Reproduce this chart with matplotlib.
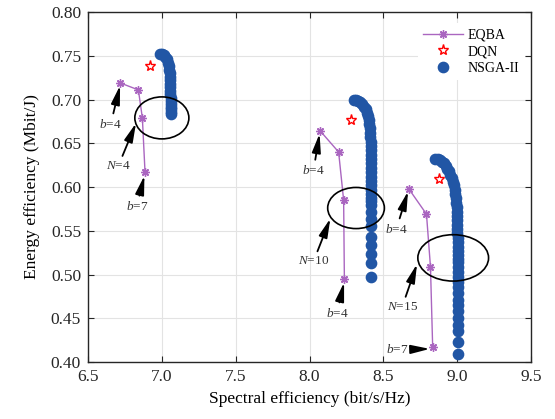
import matplotlib
matplotlib.use("Agg")
import matplotlib.pyplot as plt
from matplotlib.patches import Ellipse

# Fuente tipo Times para todo
plt.rcParams['font.family'] = ['Liberation Serif', 'DejaVu Serif']
plt.rcParams['mathtext.fontset'] = 'custom'
plt.rcParams['mathtext.rm'] = 'Liberation Serif'
plt.rcParams['mathtext.it'] = 'Liberation Serif:italic'

# EQBA (tres grupos, cuatro puntos cada uno)
eqba_se = [[6.717, 6.841, 6.868, 6.886],
           [8.073, 8.197, 8.231, 8.236],
           [8.672, 8.792, 8.819, 8.834]]
eqba_ee = [[0.719, 0.711, 0.679, 0.617],
           [0.664, 0.640, 0.585, 0.495],
           [0.598, 0.569, 0.509, 0.417]]

# DQN
dqn_se = [6.920, 8.281, 8.875]
dqn_ee = [0.738, 0.677, 0.609]

# NSGA-II (frentes de Pareto)
nsga1_se = [6.990, 7.000, 7.012, 7.022, 7.032, 7.040, 7.045, 7.049, 7.052, 7.054, 7.055,
            7.056, 7.057, 7.058, 7.058, 7.059, 7.060, 7.060, 7.061, 7.061, 7.062, 7.062]
nsga1_ee = [0.752, 0.752, 0.751, 0.749, 0.746, 0.742, 0.738, 0.734, 0.730, 0.726, 0.722,
            0.718, 0.714, 0.710, 0.706, 0.702, 0.698, 0.695, 0.692, 0.689, 0.686, 0.684]

nsga2_se = [8.299, 8.315, 8.330, 8.345, 8.358, 8.370, 8.380, 8.389, 8.396, 8.402, 8.406,
            8.409, 8.411, 8.412, 8.413, 8.413, 8.413, 8.414, 8.414, 8.414, 8.414, 8.415,
            8.415, 8.415, 8.415, 8.415, 8.416, 8.416, 8.416, 8.416, 8.416, 8.416, 8.416,
            8.416, 8.416, 8.416, 8.416, 8.416]
nsga2_ee = [0.699, 0.699, 0.698, 0.697, 0.695, 0.692, 0.689, 0.685, 0.681, 0.677, 0.672,
            0.667, 0.662, 0.657, 0.652, 0.647, 0.642, 0.637, 0.632, 0.627, 0.622, 0.617,
            0.612, 0.607, 0.602, 0.597, 0.592, 0.588, 0.584, 0.579, 0.572, 0.564, 0.555,
            0.543, 0.534, 0.524, 0.513, 0.497]

nsga3_se = [8.853, 8.868, 8.882, 8.896, 8.909, 8.921, 8.932, 8.943, 8.954, 8.962, 8.970,
            8.977, 8.983, 8.988, 8.992, 8.995, 8.997, 8.999, 9.000, 9.001, 9.001, 9.002,
            9.002, 9.003, 9.003, 9.003, 9.004, 9.004, 9.004, 9.004, 9.005, 9.005, 9.005,
            9.005, 9.005, 9.005, 9.005, 9.005, 9.005, 9.005, 9.005, 9.005, 9.005, 9.006]
nsga3_ee = [0.632, 0.632, 0.631, 0.629, 0.627, 0.624, 0.621, 0.618, 0.614, 0.610, 0.606,
            0.602, 0.597, 0.592, 0.587, 0.582, 0.577, 0.572, 0.567, 0.562, 0.557, 0.552,
            0.547, 0.542, 0.537, 0.532, 0.527, 0.522, 0.518, 0.514, 0.509, 0.503, 0.497,
            0.492, 0.486, 0.479, 0.471, 0.465, 0.458, 0.450, 0.442, 0.435, 0.423, 0.409]

# Anotaciones: texto, punto, posicion del texto
notas = [(r'$b$=4', (6.717, 0.716), (6.654, 0.672)),
         (r'$N$=4', (6.825, 0.673), (6.705, 0.624)),
         (r'$b$=7', (6.882, 0.613), (6.830, 0.578)),
         (r'$b$=4', (8.068, 0.661), (8.027, 0.619)),
         (r'$N$=10', (8.141, 0.564), (8.027, 0.515)),
         (r'$b$=4', (8.234, 0.491), (8.186, 0.456)),
         (r'$b$=4', (8.667, 0.595), (8.588, 0.552)),
         (r'$N$=15', (8.728, 0.512), (8.627, 0.463)),
         (r'$b$=7', (8.815, 0.415), (8.593, 0.414))]

# Elipses: centro, ancho, alto
elipses = [((7.000, 0.679), 0.366, 0.048),
           ((8.315, 0.576), 0.384, 0.047),
           ((8.973, 0.519), 0.479, 0.053)]

color_eqba = '#AA66C0'
color_nsga = '#2156A5'

fig = plt.figure(figsize=(5.55, 4.19), dpi=100)
ax = fig.add_axes([0.1586, 0.1360, 0.7982, 0.8353])

for i in range(3):
    ax.plot(eqba_se[i], eqba_ee[i], color=color_eqba, lw=1.0, marker=(8, 2, 0),
            ms=6, mew=1.0, label='EQBA' if i == 0 else None, zorder=3)

ax.plot(dqn_se, dqn_ee, ls='none', marker='*', ms=8, mfc='none', mec='red',
        mew=1.0, label='DQN', zorder=3)

ax.plot(nsga1_se, nsga1_ee, ls='none', marker='o', ms=7.4, color=color_nsga,
        mec=color_nsga, label='NSGA-II', zorder=2)
ax.plot(nsga2_se, nsga2_ee, ls='none', marker='o', ms=7.4, color=color_nsga,
        mec=color_nsga, zorder=2)
ax.plot(nsga3_se, nsga3_ee, ls='none', marker='o', ms=7.4, color=color_nsga,
        mec=color_nsga, zorder=2)

for centro, ancho, alto in elipses:
    ax.add_patch(Ellipse(centro, ancho, alto, fill=False, ec='k', lw=1.2, zorder=4))

for texto, punto, pos in notas:
    ax.annotate(texto, xy=punto, xytext=pos, ha='center', va='center',
                fontsize=9.5, color='#333333',
                arrowprops=dict(arrowstyle='-|>,head_length=0.95,head_width=0.22',
                                mutation_scale=12, color='k', lw=1.3,
                                shrinkA=1, shrinkB=0),
                zorder=5)

ax.set_xlim(6.5, 9.5)
ax.set_ylim(0.40, 0.80)
ax.set_xticks([6.5, 7.0, 7.5, 8.0, 8.5, 9.0, 9.5])
ax.set_yticks([0.40, 0.45, 0.50, 0.55, 0.60, 0.65, 0.70, 0.75, 0.80])
ax.set_xticklabels(['6.5', '7.0', '7.5', '8.0', '8.5', '9.0', '9.5'])
ax.set_yticklabels(['0.40', '0.45', '0.50', '0.55', '0.60', '0.65', '0.70', '0.75', '0.80'])
ax.tick_params(direction='in', top=True, right=True, length=4, width=0.8,
               labelsize=12.5, colors='#262626', pad=5)
ax.grid(True, color='#E3E3E3', lw=0.8)
ax.set_axisbelow(True)
for s in ax.spines.values():
    s.set_color('#262626')
    s.set_linewidth(1.0)

ax.set_xlabel('Spectral efficiency (bit/s/Hz)', fontsize=12.5, labelpad=4)
ax.set_ylabel('Energy efficiency (Mbit/J)', fontsize=12.5, labelpad=8)

leg = ax.legend(loc='upper right', bbox_to_anchor=(1.011, 1.0), fontsize=10,
                frameon=True, handlelength=2.9, labelspacing=0.25,
                borderaxespad=0.8, handletextpad=0.3)
leg.get_frame().set_edgecolor('none')
leg.get_frame().set_facecolor('white')
leg.get_frame().set_alpha(1.0)

fig.savefig('out.png', dpi=100)
